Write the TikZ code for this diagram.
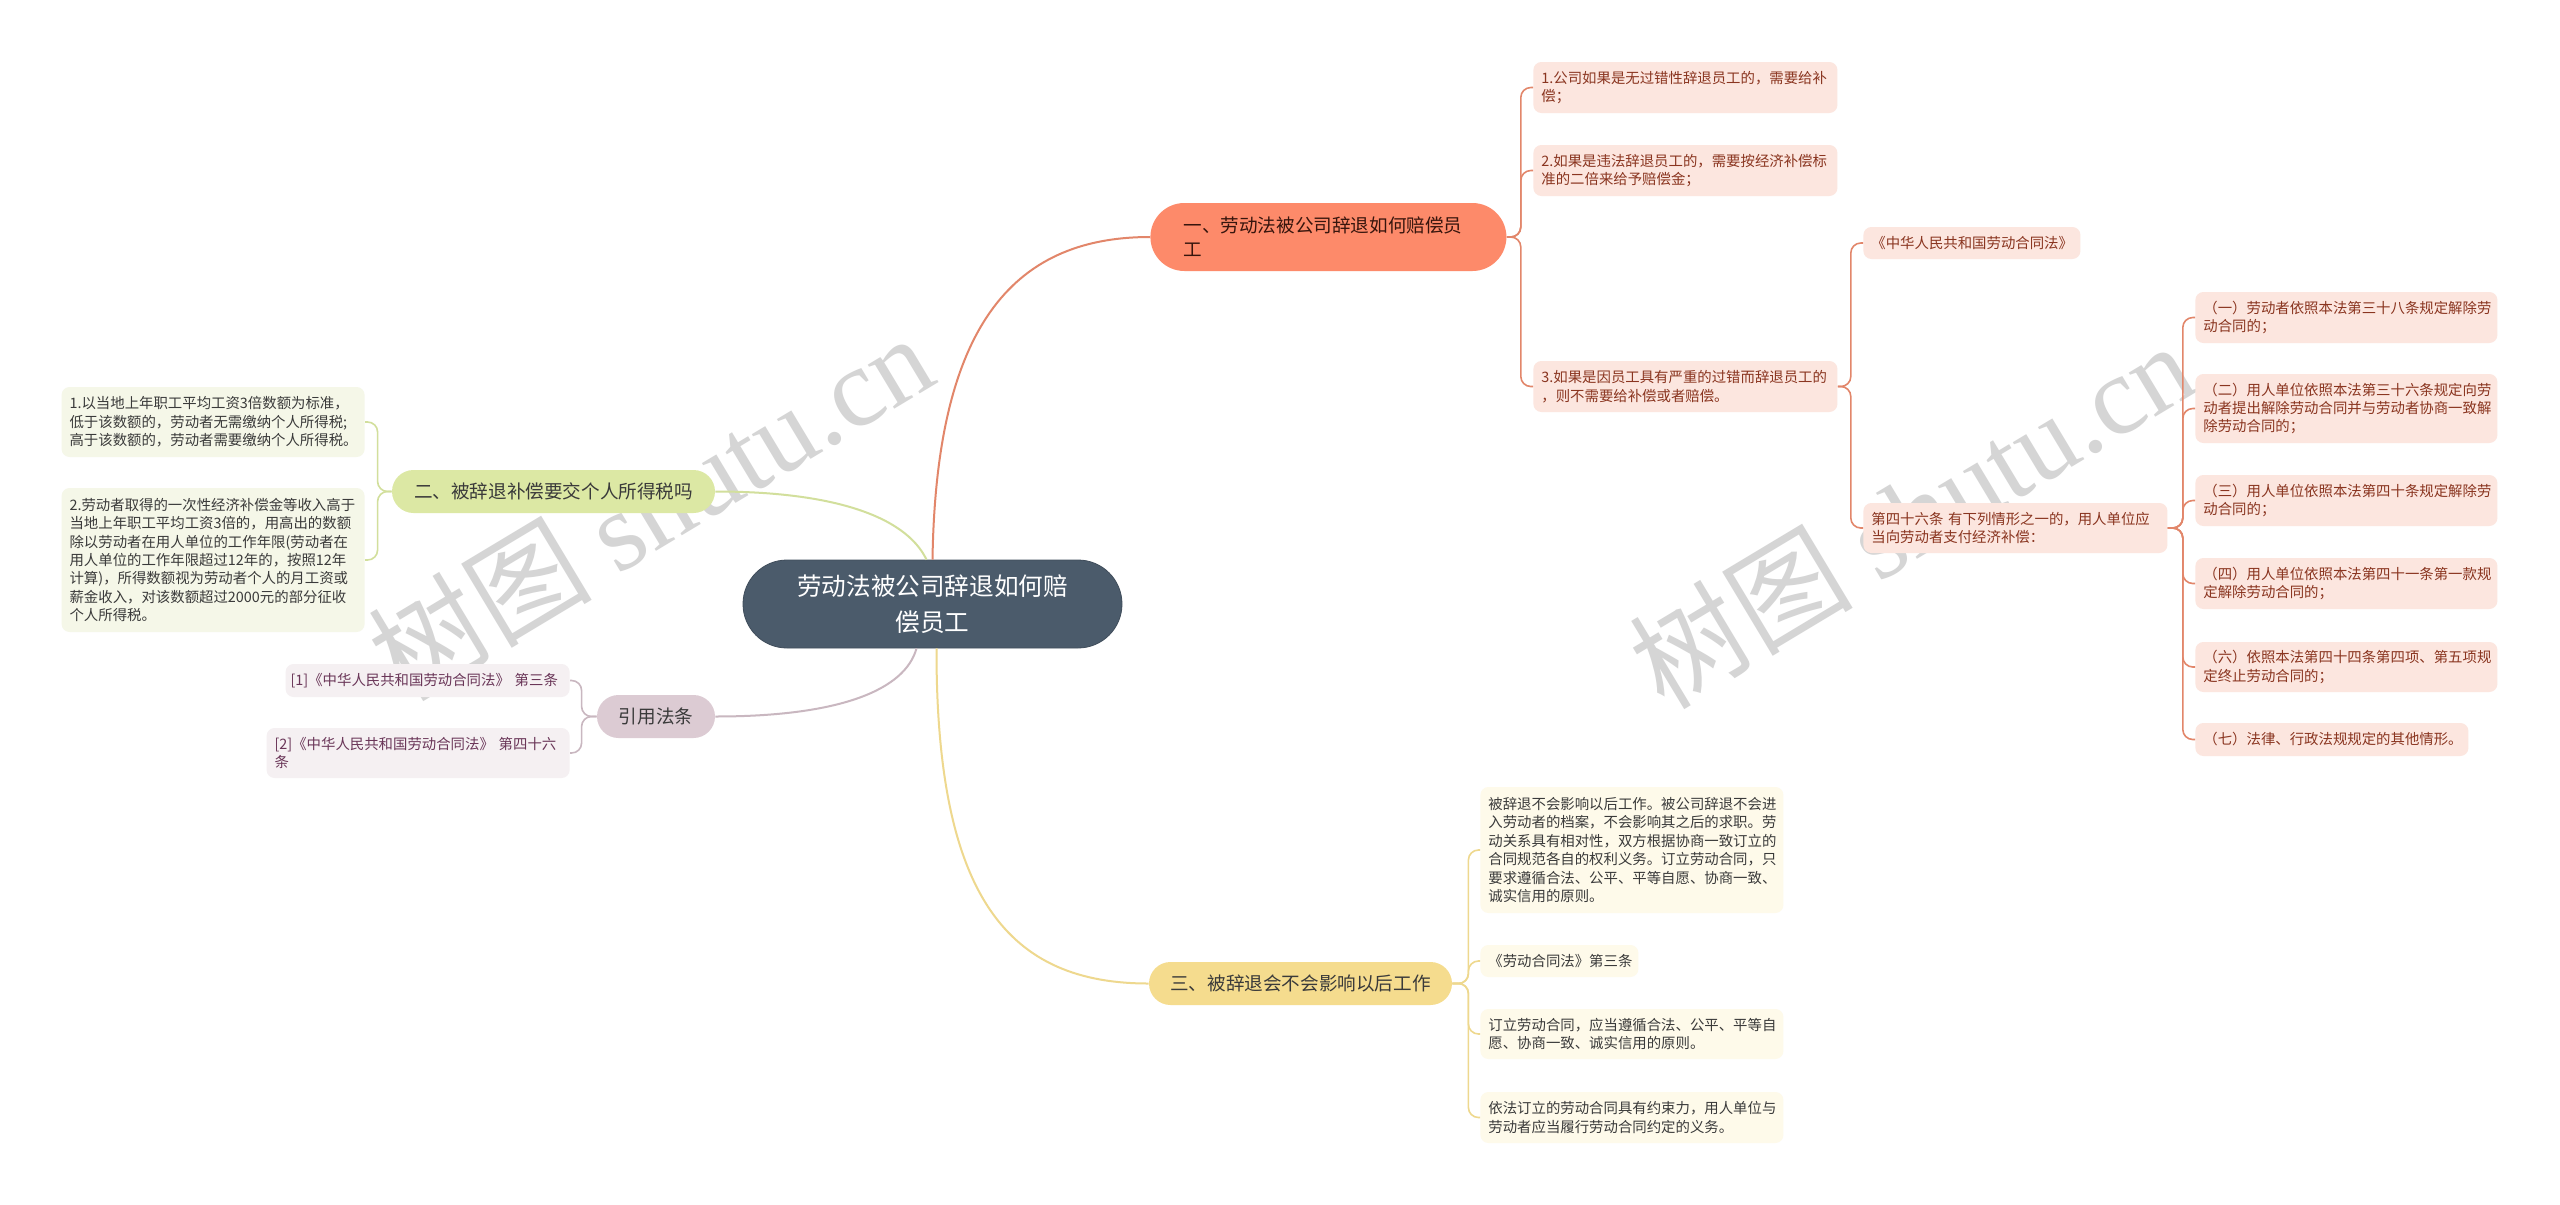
\documentclass[tikz,border=0pt]{standalone}
\usepackage{fontspec}
\setmainfont{Noto Sans CJK SC}
\newfontfamily\wmlatin{Liberation Serif}
\usepackage{tikz}
\definecolor{rootfill}{HTML}{4B5B6B}
\definecolor{onefill}{HTML}{FD8A6A}
\definecolor{oneline}{HTML}{E2866A}
\definecolor{oneleaf}{HTML}{FCE6DF}
\definecolor{onetext}{HTML}{8A3520}
\definecolor{twofill}{HTML}{DCE8A4}
\definecolor{twoline}{HTML}{D2DF9C}
\definecolor{twoleaf}{HTML}{F5F7E8}
\definecolor{citefill}{HTML}{DCCBD3}
\definecolor{citeline}{HTML}{C9B7C0}
\definecolor{citeleaf}{HTML}{F5F0F2}
\definecolor{citetext}{HTML}{6A3658}
\definecolor{thrfill}{HTML}{F5DC8E}
\definecolor{thrline}{HTML}{EED88E}
\definecolor{thrleaf}{HTML}{FEFAEA}
\definecolor{darktext}{HTML}{3A3A3A}

\begin{document}
\begin{tikzpicture}[x=0.5pt,y=-0.5pt,
root/.style={fill=rootfill,draw=rootfill!85!black,text=white,align=center,minimum width=189.5pt,minimum height=44pt,rounded corners=22pt,font=\fontsize{12.3}{18}\selectfont},
topic/.style n args={3}{fill=#1,text=darktext,minimum width=#2,minimum height=#3,rounded corners=10.75pt,inner sep=0pt,font=\fontsize{9.3}{12}\selectfont},
leaf/.style n args={4}{fill=#1,text=#2,text width=#3,minimum height=#4,rounded corners=4pt,inner xsep=4pt,inner ysep=1pt,align=left,font=\fontsize{7.2}{9.2}\selectfont},
rleaf/.style n args={4}{leaf={#1}{#2}{#3}{#4},anchor=west},
lleaf/.style n args={4}{leaf={#1}{#2}{#3}{#4},anchor=east},
edge/.style={draw=#1,line width=0.8pt,rounded corners=5pt},
main/.style={draw=#1,line width=1pt},
wmark/.style={text=black!22,opacity=0.75,rotate=31,font=\fontsize{56}{60}\selectfont}]
\useasboundingbox[fill=white] (0,0) rectangle (2560,1205);

\node[wmark] (wm1) at (650,506) {树图 {\wmlatin shutu.cn}};
\node[wmark] (wm2) at (1911,514) {树图 {\wmlatin shutu.cn}};

\node[root] (ctr) at (932.5,604) {劳动法被公司辞退如何赔\\偿员工};

\node[topic={onefill}{178pt}{34pt},text width=145pt,align=left,rounded corners=17pt,inner xsep=16.5pt,inner ysep=0pt,anchor=west,text=onetext!40!black] (one) at (1150,237) {一、劳动法被公司辞退如何赔偿员\\工};
\node[topic={twofill}{161.5pt}{21.5pt}] (two) at (553.5,491.5) {二、被辞退补偿要交个人所得税吗};
\node[topic={citefill}{59pt}{21.5pt}] (cite) at (656,716.5) {引用法条};
\node[topic={thrfill}{151.5pt}{21.5pt}] (three) at (1300.5,983.5) {三、被辞退会不会影响以后工作};

\draw[main=oneline] (ctr.north) .. controls (936,330) and (1010,237) .. (one.west);
\draw[main=twoline] ([xshift=-3pt]ctr.north) .. controls (905,515) and (830,491.5) .. (two.east);
\draw[main=citeline] ([xshift=-8pt]ctr.south) .. controls (905,690) and (840,716.5) .. (cite.east);
\draw[main=thrline] ([xshift=2pt]ctr.south) .. controls (936,900) and (1010,983.5) .. (three.west);

\node[rleaf={oneleaf}{onetext}{144pt}{25.5pt}] (a1) at (1533,87.5) {1.公司如果是无过错性辞退员工的，需要给补\\偿；};
\node[rleaf={oneleaf}{onetext}{144pt}{25.5pt}] (a2) at (1533,170.5) {2.如果是违法辞退员工的，需要按经济补偿标\\准的二倍来给予赔偿金；};
\node[rleaf={oneleaf}{onetext}{144pt}{25.5pt}] (a3) at (1533,386.5) {3.如果是因员工具有严重的过错而辞退员工的\\，则不需要给补偿或者赔偿。};
\foreach \n in {a1,a2,a3}
  \draw[edge=oneline] (one.east) -- ++(7pt,0) |- (\n.west);

\node[rleaf={oneleaf}{onetext}{100.5pt}{16pt}] (b1) at (1863,243) {《中华人民共和国劳动合同法》};
\node[rleaf={oneleaf}{onetext}{144pt}{25pt}] (b2) at (1863,528) {第四十六条 有下列情形之一的，用人单位应\\当向劳动者支付经济补偿：};
\foreach \n in {b1,b2}
  \draw[edge=oneline] (a3.east) -- ++(6.5pt,0) |- (\n.west);

\foreach \n/\y/\w/\h/\t in {c1/317.5/143pt/25.5pt/{（一）劳动者依照本法第三十八条规定解除劳\\动合同的；},
  c2/408.5/143pt/34.5pt/{（二）用人单位依照本法第三十六条规定向劳\\动者提出解除劳动合同并与劳动者协商一致解\\除劳动合同的；},
  c3/500.5/143pt/25.5pt/{（三）用人单位依照本法第四十条规定解除劳\\动合同的；},
  c4/583.5/143pt/25.5pt/{（四）用人单位依照本法第四十一条第一款规\\定解除劳动合同的；},
  c5/667/143pt/25pt/{（六）依照本法第四十四条第四项、第五项规\\定终止劳动合同的；},
  c6/739.5/128.5pt/16.5pt/{（七）法律、行政法规规定的其他情形。}} {
  \node[rleaf={oneleaf}{onetext}{\w}{\h}] (\n) at (2195,\y) {\t};
  \draw[edge=oneline] (b2.east) -- ++(7.5pt,0) |- (\n.west);
}

\node[lleaf={twoleaf}{darktext}{143.5pt}{35pt}] (d1) at (365,422) {1.以当地上年职工平均工资3倍数额为标准，\\低于该数额的，劳动者无需缴纳个人所得税;\\高于该数额的，劳动者需要缴纳个人所得税。};
\node[lleaf={twoleaf}{darktext}{143.5pt}{72pt}] (d2) at (365,560) {2.劳动者取得的一次性经济补偿金等收入高于\\当地上年职工平均工资3倍的，用高出的数额\\除以劳动者在用人单位的工作年限(劳动者在\\用人单位的工作年限超过12年的，按照12年\\计算)，所得数额视为劳动者个人的月工资或\\薪金收入，对该数额超过2000元的部分征收\\个人所得税。};
\foreach \n in {d1,d2}
  \draw[edge=twoline] (two.west) -- ++(-7pt,0) |- (\n.east);

\node[lleaf={citeleaf}{citetext}{137pt}{16.5pt},inner xsep=2.5pt] (e1) at (570,680.5) {[1]《中华人民共和国劳动合同法》 第三条};
\node[lleaf={citeleaf}{citetext}{143.5pt}{25pt}] (e2) at (570,753) {[2]《中华人民共和国劳动合同法》 第四十六\\条};
\foreach \n in {e1,e2}
  \draw[edge=citeline] (cite.west) -- ++(-7.5pt,0) |- (\n.east);

\node[rleaf={thrleaf}{darktext}{143.5pt}{63pt}] (f1) at (1480,850) {被辞退不会影响以后工作。被公司辞退不会进\\入劳动者的档案，不会影响其之后的求职。劳\\动关系具有相对性，双方根据协商一致订立的\\合同规范各自的权利义务。订立劳动合同，只\\要求遵循合法、公平、平等自愿、协商一致、\\诚实信用的原则。};
\node[rleaf={thrleaf}{darktext}{71pt}{16pt}] (f2) at (1480,961) {《劳动合同法》第三条};
\node[rleaf={thrleaf}{darktext}{143.5pt}{25pt}] (f3) at (1480,1034) {订立劳动合同，应当遵循合法、公平、平等自\\愿、协商一致、诚实信用的原则。};
\node[rleaf={thrleaf}{darktext}{143.5pt}{25.5pt}] (f4) at (1480,1117.5) {依法订立的劳动合同具有约束力，用人单位与\\劳动者应当履行劳动合同约定的义务。};
\foreach \n in {f1,f2,f3,f4}
  \draw[edge=thrline] (three.east) -- ++(8pt,0) |- (\n.west);
\end{tikzpicture}
\end{document}
